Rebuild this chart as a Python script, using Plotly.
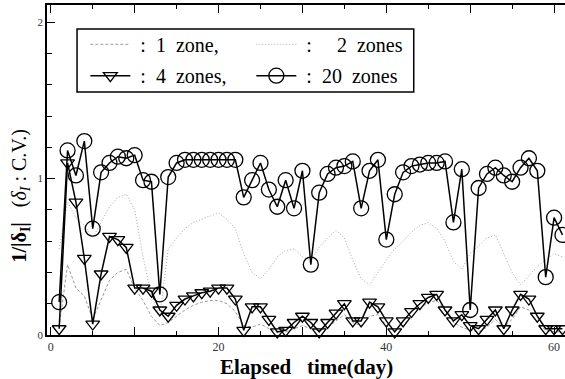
import plotly.graph_objects as go

days = list(range(1, 62))

zones20 = [0.21, 1.18, 1.02, 1.24, 0.68, 1.04, 1.10, 1.14, 1.13, 1.15,
           0.99, 0.98, 0.26, 1.01, 1.10, 1.12, 1.12, 1.12, 1.12, 1.12,
           1.12, 1.12, 0.88, 0.99, 1.10, 0.93, 0.82, 0.99, 0.81, 1.05,
           0.45, 0.91, 1.03, 1.07, 1.08, 1.11, 0.81, 1.05, 1.12, 0.61,
           0.90, 1.04, 1.08, 1.09, 1.10, 1.10, 1.11, 0.72, 1.06, 0.16,
           0.94, 1.03, 1.07, 1.02, 0.98, 1.07, 1.13, 1.05, 0.37, 0.75,
           0.64]

zones4 = [0.04, 1.10, 0.85, 0.49, 0.07, 0.39, 0.63, 0.61, 0.56, 0.30,
          0.30, 0.28, 0.16, 0.12, 0.19, 0.23, 0.25, 0.27, 0.28, 0.30,
          0.30, 0.23, 0.03, 0.18, 0.18, 0.10, 0.02, 0.03, 0.08, 0.12,
          0.08, 0.02, 0.08, 0.14, 0.20, 0.09, 0.09, 0.21, 0.18, 0.09,
          0.02, 0.09, 0.15, 0.20, 0.24, 0.26, 0.16, 0.09, 0.13, 0.06,
          0.04, 0.10, 0.16, 0.04, 0.16, 0.26, 0.23, 0.12, 0.04, 0.04,
          0.04]

zones2 = [0.55, 0.85, 0.75, 0.70, 0.62, 0.72, 0.82, 0.88, 0.90, 0.80,
          0.50, 0.25, 0.12, 0.55, 0.62, 0.68, 0.72, 0.74, 0.76, 0.78,
          0.74, 0.68, 0.52, 0.40, 0.36, 0.42, 0.50, 0.54, 0.55, 0.50,
          0.48, 0.56, 0.62, 0.67, 0.62, 0.48, 0.36, 0.32, 0.40, 0.48,
          0.55, 0.60, 0.66, 0.70, 0.72, 0.68, 0.60, 0.47, 0.42, 0.52,
          0.57, 0.62, 0.64, 0.52, 0.40, 0.32, 0.38, 0.44, 0.48, 0.52,
          0.50]

zones1 = [0.05, 0.45, 0.30, 0.25, 0.10, 0.22, 0.35, 0.40, 0.42, 0.30,
          0.22, 0.12, 0.06, 0.08, 0.12, 0.16, 0.19, 0.21, 0.22, 0.22,
          0.20, 0.15, 0.06, 0.05, 0.07, 0.04, 0.02, 0.02, 0.04, 0.06,
          0.04, 0.03, 0.05, 0.09, 0.13, 0.08, 0.06, 0.12, 0.13, 0.06,
          0.02, 0.06, 0.12, 0.17, 0.21, 0.22, 0.16, 0.08, 0.05, 0.03,
          0.02, 0.05, 0.10, 0.05, 0.10, 0.18, 0.16, 0.08, 0.03, 0.02,
          0.02]

x_tickvals = [0, 10, 20, 30, 40, 50, 60]
x_ticktext = ["0", "", "20", "", "40", "", "60"]
y_tickvals = [0, 1, 2]
y_ticktext = ["0", "1", "2"]

NB = "\u00a0"
SERIF = "Liberation Serif, Times New Roman, serif"

fig = go.Figure()

fig.add_trace(go.Scatter(
    x=days, y=zones1, mode="lines", name=NB + ":" + NB * 2 + "1" + NB * 2 + "zone,",
    line=dict(color="#9a9a9a", width=1, dash="3px,2px"), legend="legend"))
fig.add_trace(go.Scatter(
    x=days, y=zones2, mode="lines", name=NB + ":" + NB * 5 + "2" + NB * 2 + "zones",
    line=dict(color="#a8a8a8", width=1, dash="1px,2px"), legend="legend"))
fig.add_trace(go.Scatter(
    x=days, y=zones4, mode="lines+markers", name=NB + ":" + NB * 2 + "4" + NB * 2 + "zones,",
    line=dict(color="black", width=1.5),
    marker=dict(symbol="triangle-down-open", size=12, color="black",
                line=dict(width=1.3, color="black")),
    cliponaxis=False, legend="legend2"))
fig.add_trace(go.Scatter(
    x=days, y=zones20, mode="lines+markers", name=NB + ":" + NB * 2 + "20" + NB * 2 + "zones",
    line=dict(color="black", width=1.5),
    marker=dict(symbol="circle-open", size=15, color="black",
                line=dict(width=1.3, color="black")),
    cliponaxis=False, legend="legend2"))

fig.update_layout(
    width=565, height=379,
    margin=dict(l=47, r=0, t=5, b=44, autoexpand=False),
    paper_bgcolor="white", plot_bgcolor="white",
    font=dict(family=SERIF, color="black"),
    showlegend=True,
    legend=dict(orientation="h", x=0.074, y=0.94, xanchor="left", yanchor="top",
                bgcolor="rgba(0,0,0,0)", borderwidth=0,
                font=dict(family=SERIF, size=20, color="black"),
                entrywidth=111, entrywidthmode="pixels",
                itemwidth=40, tracegroupgap=0),
    legend2=dict(orientation="h", x=0.074, y=0.845, xanchor="left", yanchor="top",
                 bgcolor="rgba(0,0,0,0)", borderwidth=0,
                 font=dict(family=SERIF, size=20, color="black"),
                 entrywidth=111, entrywidthmode="pixels",
                 itemwidth=40, tracegroupgap=0),
    xaxis=dict(range=[-0.45, 61.3], showgrid=False, zeroline=False, automargin=False,
               showline=True, linecolor="black", linewidth=1.5, mirror="ticks",
               ticks="inside", ticklen=8, tickwidth=1.2, tickcolor="black",
               tickvals=x_tickvals, ticktext=x_ticktext,
               tickfont=dict(family=SERIF, size=12, color="#333"),
               minor=dict(dtick=5, ticks="inside", ticklen=4, tickcolor="black", tickwidth=1)),
    yaxis=dict(range=[0, 2.11], showgrid=False, zeroline=False, automargin=False,
               showline=True, linecolor="black", linewidth=1.5, mirror=False,
               ticks="inside", ticklen=8, tickwidth=1.2, tickcolor="black",
               tickvals=y_tickvals, ticktext=y_ticktext,
               tickfont=dict(family=SERIF, size=11, color="#333"),
               minor=dict(dtick=0.2, ticks="inside", ticklen=5, tickcolor="black", tickwidth=1)),
    shapes=[dict(type="rect", xref="paper", yref="paper",
                 x0=0.058, x1=0.708, y0=0.736, y1=0.927,
                 line=dict(color="black", width=1.5), fillcolor="rgba(0,0,0,0)")],
    annotations=[
        dict(text="<b>Elapsed</b>" + NB * 3 + "<b>time(day)</b>", xref="paper", yref="paper",
             x=0.5, y=-0.098, xanchor="center", yanchor="middle", showarrow=False,
             font=dict(family=SERIF, size=21, color="black")),
        dict(text="<b>1/|δ<sub>I</sub>|</b>" + NB * 3 + "(<i>δ<sub>I</sub></i>" + NB + ":" + NB + "C.V.)",
             xref="paper", yref="paper", x=-0.052, y=0.42, xanchor="center", yanchor="middle",
             textangle=-90, showarrow=False,
             font=dict(family=SERIF, size=20, color="black")),
    ],
)

fig.write_html("out.html", config={"displayModeBar": False},
               post_script="document.body.style.margin='0';document.body.style.overflow='hidden';")
